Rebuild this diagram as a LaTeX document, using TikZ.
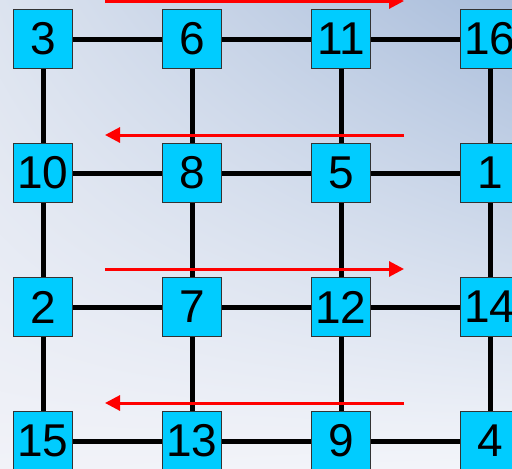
\documentclass[tikz,border=0pt]{standalone}
\usepackage{fontspec}
\setmainfont{Liberation Sans}
\usetikzlibrary{arrows.meta,shadings}
\definecolor{boxcyan}{HTML}{00CCFF}
\definecolor{bgUL}{HTML}{DCE3EF}
\definecolor{bgUR}{HTML}{A9BDDB}
\definecolor{bgLL}{HTML}{F1F2F8}
\definecolor{bgLR}{HTML}{F3F5FA}
\begin{document}
\begin{tikzpicture}[x=1pt,y=-1pt,
  cell/.style={draw=black!80,line width=1.6pt,fill=boxcyan,minimum size=59pt,inner sep=0pt,font=\fontsize{46}{46}\selectfont},
  link/.style={line width=5pt,black},
  flow/.style={line width=3pt,red,-{Triangle[length=15pt,width=15pt]}}]
\shade[upper left=bgUL,upper right=bgUR,lower left=bgLL,lower right=bgLR] (0,0) rectangle (512,469);
\useasboundingbox (0,0) rectangle (512,469);
% positions
\foreach \n/\i/\j in {3/0/0,6/1/0,11/2/0,16/3/0,
                      10/0/1,8/1/1,5/2/1,1/3/1,
                      2/0/2,7/1/2,12/2/2,14/3/2,
                      15/0/3,13/1/3,9/2/3,4/3/3}
  \coordinate (p\n) at ({43+149*\i},{39+134*\j});
% links
\foreach \a/\b in {3/6,6/11,11/16,10/8,8/5,5/1,2/7,7/12,12/14,15/13,13/9,9/4,
                   3/10,10/2,2/15,6/8,8/7,7/13,11/5,5/12,12/9,16/1,1/14,14/4}
  \draw[link] (p\a) -- (p\b);
% nodes
\foreach \n in {3,6,11,16,10,8,5,1,2,7,12,14,15,13,9,4}
  \node[cell] (n\n) at (p\n) {\n};
% arrows
\coordinate (aL1) at (105,1);   \coordinate (aR1) at (404,1);
\coordinate (aL2) at (105,135); \coordinate (aR2) at (404,135);
\coordinate (aL3) at (105,269); \coordinate (aR3) at (404,269);
\coordinate (aL4) at (105,403); \coordinate (aR4) at (404,403);
\draw[flow] (aL1) -- (aR1);
\draw[flow] (aR2) -- (aL2);
\draw[flow] (aL3) -- (aR3);
\draw[flow] (aR4) -- (aL4);
\end{tikzpicture}
\end{document}
